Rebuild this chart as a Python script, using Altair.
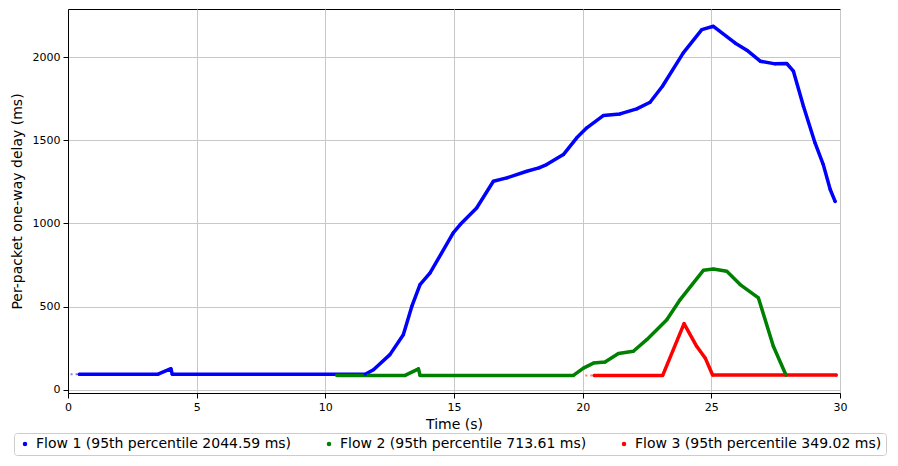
import altair as alt
import pandas as pd

# ---- data ----
names = [
    "Flow 1 (95th percentile 2044.59 ms)",
    "Flow 2 (95th percentile 713.61 ms)",
    "Flow 3 (95th percentile 349.02 ms)",
]
colors = ["#0000ff", "#008000", "#ff0000"]

flow1_t = [0.44, 3.5, 4.0, 4.05, 11.55, 11.87, 12.51, 13.03, 13.36, 13.68, 14.07,
           14.97, 15.24, 15.88, 16.53, 17.05, 17.83, 18.3, 18.6, 19.25, 19.77, 20.16,
           20.8, 21.45, 22.1, 22.62, 23.1, 23.91, 24.63, 25.08, 25.92, 26.38, 26.9,
           27.48, 27.93, 28.19, 28.58, 29.03, 29.35, 29.62, 29.81]
flow1_v = [93, 93, 126, 93, 93, 120, 211, 331, 501, 632, 702,
           943, 993, 1093, 1254, 1274, 1314, 1334, 1354, 1414, 1515, 1575,
           1649, 1659, 1689, 1729, 1825, 2026, 2166, 2186, 2086, 2042, 1976,
           1960, 1962, 1916, 1705, 1484, 1354, 1204, 1133]

flow2_t = [10.45, 13.1, 13.62, 13.68, 19.64, 20.03, 20.42, 20.87, 21.39, 21.97,
           22.49, 23.27, 23.79, 24.69, 25.08, 25.6, 26.12, 26.83, 27.41, 27.9]
flow2_v = [86, 86, 125, 86, 86, 130, 160, 166, 217, 231,
           301, 421, 542, 718, 726, 712, 632, 552, 261, 88]

flow3_t = [20.45, 23.11, 23.94, 24.43, 24.76, 25.05, 29.85]
flow3_v = [86, 86, 397, 261, 191, 88, 88]

# sparse lead-in packets (drawn faint/dotted)
lead_t = [[0.1, 0.42], [10.05, 10.45], [20.1, 20.45]]
lead_v = [[93, 93], [88, 88], [86, 86]]

x_ticks = [0, 5, 10, 15, 20, 25, 30]
y_ticks = [0, 500, 1000, 1500, 2000]

# ---- tables ----
rows = []
for name, ts, vs in zip(names, [flow1_t, flow2_t, flow3_t], [flow1_v, flow2_v, flow3_v]):
    for i, (t, v) in enumerate(zip(ts, vs)):
        rows.append({"t": t, "v": v, "flow": name, "i": i})
df = pd.DataFrame(rows)

lrows = []
for name, ts, vs in zip(names, lead_t, lead_v):
    for t, v in zip(ts, vs):
        lrows.append({"t": t, "v": v, "flow": name})
ldf = pd.DataFrame(lrows)

FONT = "DejaVu Sans"

x = alt.X("t:Q", scale=alt.Scale(domain=[0, 30], nice=False, zero=False),
          axis=alt.Axis(title="Time (s)", values=x_ticks, format="d", labelFlush=False))
y = alt.Y("v:Q", scale=alt.Scale(domain=[-20, 2290], nice=False, zero=False),
          axis=alt.Axis(title="Per-packet one-way delay (ms)", values=y_ticks, format="d"))

cscale = alt.Scale(domain=names, range=colors)

lines = alt.Chart(df).mark_line(strokeWidth=3.5, strokeJoin="round", strokeCap="round").encode(
    x=x, y=y,
    color=alt.Color("flow:N", scale=cscale, legend=None),
    detail="flow:N",
    order="i:Q",
)

leads = alt.Chart(ldf).mark_line(strokeWidth=2, strokeDash=[2, 3], opacity=0.5).encode(
    x=x, y=y,
    color=alt.Color("flow:N", scale=cscale, legend=None),
    detail="flow:N",
)

points = alt.Chart(df).mark_circle(size=10, opacity=1).encode(
    x=x, y=y,
    color=alt.Color(
        "flow:N", scale=cscale,
        legend=alt.Legend(
            title=None, orient="none", legendX=-54, legendY=424,
            direction="horizontal", columns=3, columnPadding=30,
            symbolType="circle", symbolSize=20, labelOffset=4,
            labelFontSize=14, labelFont=FONT, labelColor="black", labelLimit=400,
            strokeColor="#cccccc", fillColor="white", padding=4, cornerRadius=3,
        ),
    ),
)

chart = alt.layer(leads, lines, points).resolve_scale(color="independent").properties(
    width=772, height=384,
    autosize=alt.AutoSizeParams(type="none"),
    padding={"left": 60, "top": 1, "right": 50, "bottom": 64},
).configure_view(
    stroke="black", strokeWidth=1,
).configure_axis(
    domainColor="black", tickColor="black", tickSize=5, labelColor="black",
    labelFont=FONT, labelFontSize=11, labelPadding=3,
    titleFont=FONT, titleFontSize=14, titleFontWeight="normal", titleColor="black",
    gridColor="#c8c8c8", gridWidth=1,
).configure_axisX(titlePadding=5).configure_axisY(titlePadding=8)

chart.save("out.html", embed_options={"renderer": "svg", "actions": False})
